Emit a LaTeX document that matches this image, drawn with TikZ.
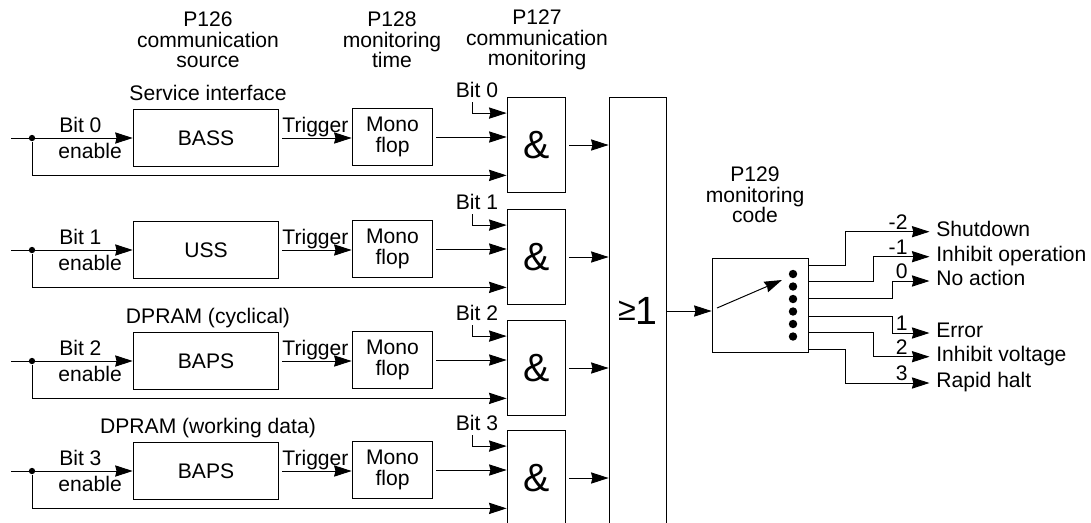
\documentclass[tikz,border=0pt]{standalone}
\usepackage{fontspec}
\setmainfont{Liberation Sans}
\usetikzlibrary{arrows.meta}

\begin{document}
\begin{tikzpicture}[
    x=0.025cm, y=-0.025cm,
    font=\fontsize{15}{14.5}\selectfont,
    line width=0.7pt,
    >={Stealth[length=12.5pt, width=8pt, inset=1pt]},
    block/.style={draw, inner sep=0pt, minimum height=40.4pt, align=center},
    gate/.style={draw, inner sep=0pt, minimum width=41.8pt, minimum height=68.1pt, font=\fontsize{28}{28}\selectfont},
    node dot/.style={circle, fill=black, inner sep=0pt, minimum size=4.5pt},
    head/.style={align=center},
    outlabel/.style={anchor=west, inner sep=4.5pt, text height=10pt, text depth=3pt},
]

\useasboundingbox (0,0) rectangle (1091,522);
\clip (0,0) rectangle (1091,522);

% Column headers
\node[head] (hsrc) at (208,40) {P126\\communication\\source};
\node[head] (hmono) at (392,40) {P128\\monitoring\\time};
\node[head] (hand) at (537,40) {P127\\communication\\monitoring};

% OR gate (runs off the bottom edge)
\node[draw, minimum width=41.1pt, minimum height=303.5pt, font=\fontsize{28}{28}\selectfont] (or) at (638,311)
    {{\fontsize{23}{23}\selectfont\raisebox{3pt}{≥}}1};

% Channels
\foreach \i/\ypos/\src/\note in {0/138/BASS/{Service interface}, 1/250/USS/{}, 2/361/BAPS/{DPRAM (cyclical)}, 3/471/BAPS/{DPRAM (working data)}}{
    \coordinate (in\i) at (11,\ypos);
    \node[node dot] (dot\i) at (32,\ypos) {};
    \node[block, minimum width=103.5pt] (src\i) at (206,\ypos) {\src};
    \node[anchor=base] (note\i) at (208,\ypos-38) {\note};
    \node[block, minimum width=57.4pt] (mono\i) at (392.5,\ypos-1) {Mono\\flop};
    \node[gate] (and\i) at (536.5,\ypos+7) {\&};
    \node[anchor=base] (bit\i) at (477,\ypos-41) {Bit \i};

    \draw[->] (in\i) -- node[pos=0.57, above] {Bit \i} node[pos=0.65, below] {enable} (src\i.west);
    \draw[->] (dot\i) |- ([yshift=12.8pt]and\i.south west);
    \draw[->, shorten <=2pt] (src\i.east) -- node[above, inner sep=0.5pt] {Trigger} (mono\i.west |- src\i.east);
    \draw[->, shorten <=2pt] (mono\i.east) -- (and\i.west |- mono\i.east);
    \draw[->] ([xshift=-3.5pt]bit\i.south) |- ([yshift=-11.7pt]and\i.north west);
    \draw[->, shorten <=2pt] (and\i.east) -- (or.west |- and\i.east);
}

% Monitoring code selector
\node[draw, minimum width=68.8pt, minimum height=67.4pt] (mon) at (760.5,305.5) {};
\node[head] (hmon) at (755,195) {P129\\monitoring\\code};
\draw[->] (or.east) -- (mon.west |- or.east);

\foreach \k in {0,...,5}
    \node[node dot, minimum size=6pt] (pin\k) at (793,274+12.5*\k) {};
\coordinate (pivot) at (717,308);
\coordinate (swtip) at (782,280);
\draw[->] (pivot) -- (swtip);

% Reactions
\foreach \k/\dy/\xb/\ye/\num/\txt in {0/5.5/845/231.7/-2/Shutdown, 1/17/873/256.7/-1/Inhibit operation, 2/29.1/892/281/0/No action, 3/41.6/892/333/1/Error, 4/53/873/356.7/2/Inhibit voltage, 5/65.2/845/383/3/Rapid halt}{
    \node[outlabel] (out\k) at (929.5,\ye) {\txt};
    \coordinate (bend\k) at (\xb,\ye);
    \draw[->] ([yshift=-\dy pt]mon.north east) -| (bend\k) -- node[pos=1, anchor=south east, xshift=-13.8pt, inner sep=1.5pt] {\num} (out\k.west);
}

\end{tikzpicture}
\end{document}
